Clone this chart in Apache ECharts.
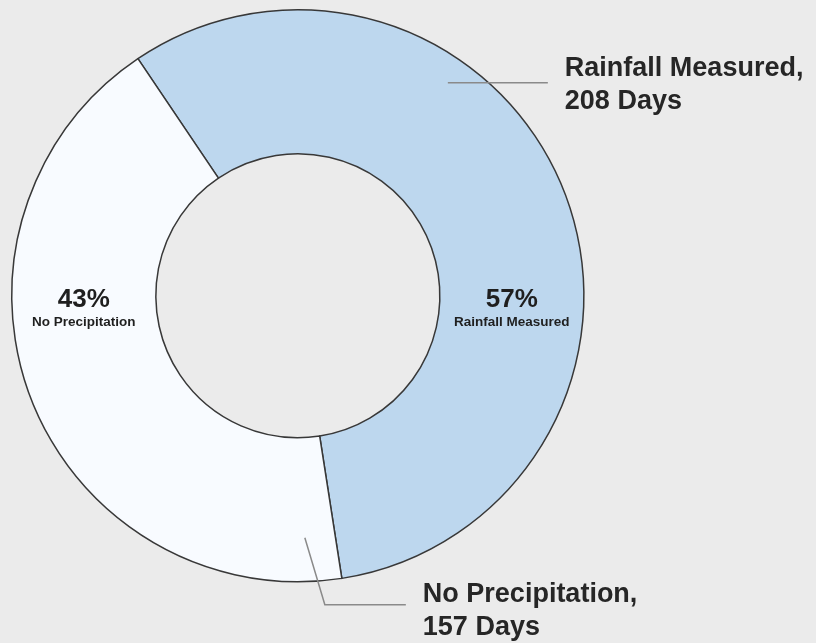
<!DOCTYPE html>
<html>
<head>
<meta charset="utf-8">
<script src="https://cdn.jsdelivr.net/npm/echarts@6/dist/echarts.min.js"></script>
<style>
  html, body { margin: 0; padding: 0; background: #ebebeb; }
  #chart { width: 816px; height: 643px; }
</style>
</head>
<body>
<div id="chart"></div>
<script>
// ---- data ----
const categories = ['Rainfall Measured', 'No Precipitation'];
const days = [208, 157];
const sliceColors = ['#bdd7ee', '#f8fbff'];

const total = days.reduce((a, b) => a + b, 0);
const percents = days.map(d => Math.round(d / total * 100));

// ---- geometry (layout only) ----
const W = 816, H = 643;
const cx = W * 0.365, cy = H * 0.46;
const rIn = 142, rOut = 286;
const rMid = (rIn + rOut) / 2;

const chart = echarts.init(document.getElementById('chart'), null, { renderer: 'canvas' });

const pieData = categories.map((c, i) => ({
  name: c,
  value: days[i],
  itemStyle: { color: sliceColors[i] }
}));

const font = '"Liberation Sans", Arial, sans-serif';

chart.setOption({
  backgroundColor: '#ebebeb',
  animation: false,
  series: [
    {
      type: 'pie',
      center: [cx, cy],
      radius: [rIn, rOut],
      startAngle: 124,
      clockwise: true,
      avoidLabelOverlap: false,
      silent: true,
      itemStyle: { borderColor: '#383838', borderWidth: 1.5 },
      label: {
        show: true,
        position: 'inside',
        formatter: p => '{p|' + percents[p.dataIndex] + '%}\n{n|' + p.name + '}',
        rich: {
          p: { fontFamily: font, fontSize: 26, fontWeight: 'bold', color: '#1f1f1f', lineHeight: 28, align: 'center' },
          n: { fontFamily: font, fontSize: 13.5, fontWeight: 'bold', color: '#1f1f1f', lineHeight: 18, align: 'center' }
        }
      },
      labelLine: { show: false },
      labelLayout: p => ({
        x: p.dataIndex === 0 ? cx + rMid : cx - rMid,
        y: cy + 13,
        align: 'center',
        verticalAlign: 'middle'
      }),
      data: pieData
    },
    {
      type: 'pie',
      center: [cx, cy],
      radius: [rIn, rOut],
      startAngle: 124,
      clockwise: true,
      avoidLabelOverlap: false,
      silent: true,
      z: 5,
      itemStyle: { color: 'rgba(0,0,0,0)', borderWidth: 0 },
      label: {
        show: true,
        position: 'outside',
        formatter: p => '{a|' + p.name + ',}\n{a|' + days[p.dataIndex] + ' Days}',
        rich: {
          a: { fontFamily: font, fontSize: 27, fontWeight: 'bold', color: '#262626', lineHeight: 33 }
        }
      },
      labelLine: {
        show: true,
        lineStyle: { color: '#8a8a8a', width: 1.5 }
      },
      labelLayout: p => {
        if (p.dataIndex === 0) {
          return {
            x: cx + 267, y: cy - 211,
            align: 'left', verticalAlign: 'middle',
            labelLinePoints: [[cx + 150, cy - 213], [cx + 200, cy - 213], [cx + 250, cy - 213]]
          };
        }
        return {
          x: cx + 125, y: cy + 315,
          align: 'left', verticalAlign: 'middle',
          labelLinePoints: [[cx + 7, cy + 242], [cx + 27, cy + 309], [cx + 108, cy + 309]]
        };
      },
      data: categories.map((c, i) => ({ name: c, value: days[i] }))
    }
  ]
});
</script>
</body>
</html>
